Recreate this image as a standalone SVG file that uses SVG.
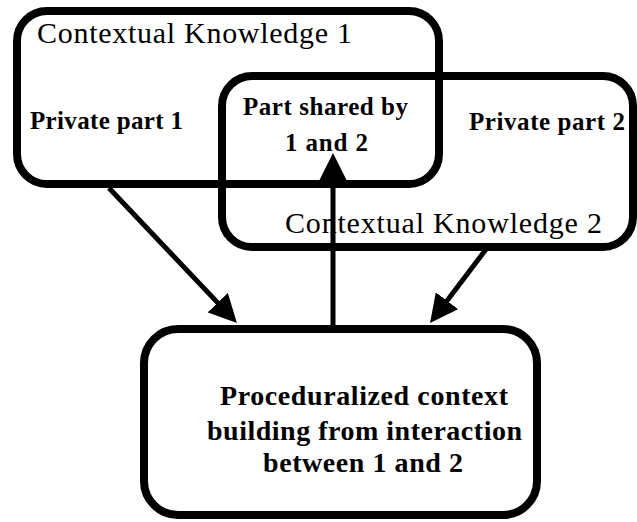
<svg xmlns="http://www.w3.org/2000/svg" width="637" height="522" viewBox="0 0 637 522">
<defs>
<style>
.box{fill:none;stroke:#000;stroke-width:8}
.title{font-family:"Liberation Serif","Times New Roman",serif;font-size:30px;fill:#000}
.bold{font-family:"Liberation Serif","Times New Roman",serif;font-size:25px;font-weight:bold;fill:#000}
.bold2{font-family:"Liberation Serif","Times New Roman",serif;font-size:28px;font-weight:bold;fill:#000}
.conn{stroke:#000;stroke-width:5;fill:none;marker-end:url(#arrow)}
</style>
<marker id="arrow" markerUnits="userSpaceOnUse" markerWidth="28" markerHeight="28" refX="14" refY="14" orient="auto">
<path d="M0,0 L28,14 L0,28 z" fill="#000"/>
</marker>
</defs>
<rect width="637" height="522" fill="#fff"/>
<g id="ck1">
<rect class="box" x="17" y="11" width="422" height="173" rx="30" ry="30"/>
<text class="title" x="37" y="43" textLength="315" lengthAdjust="spacing">Contextual Knowledge 1</text>
<text class="bold" x="30" y="129" textLength="153" lengthAdjust="spacing">Private part 1</text>
</g>
<g id="ck2">
<rect class="box" x="222" y="76" width="411" height="171" rx="30" ry="30"/>
<text class="bold" x="469" y="130" textLength="156" lengthAdjust="spacing">Private part 2</text>
<text class="title" x="285" y="233" textLength="317" lengthAdjust="spacing">Contextual Knowledge 2</text>
</g>
<g id="shared">
<text class="bold" x="243" y="115" textLength="165" lengthAdjust="spacing">Part shared by</text>
<text class="bold" x="285" y="151" textLength="83" lengthAdjust="spacing">1 and 2</text>
</g>
<g id="proc">
<rect class="box" x="144" y="329" width="393" height="186" rx="34" ry="34"/>
<text class="bold2" x="220" y="405" textLength="288" lengthAdjust="spacing">Proceduralized context</text>
<text class="bold2" x="207" y="440" textLength="315" lengthAdjust="spacing">building from interaction</text>
<text class="bold2" x="263" y="472" textLength="200" lengthAdjust="spacing">between 1 and 2</text>
</g>
<g id="connectors">
<line class="conn" x1="109" y1="188" x2="227.3" y2="312.9"/>
<line class="conn" x1="487" y1="248" x2="438.5" y2="311.9"/>
<line class="conn" x1="333" y1="329" x2="333" y2="167"/>
</g>
</svg>
